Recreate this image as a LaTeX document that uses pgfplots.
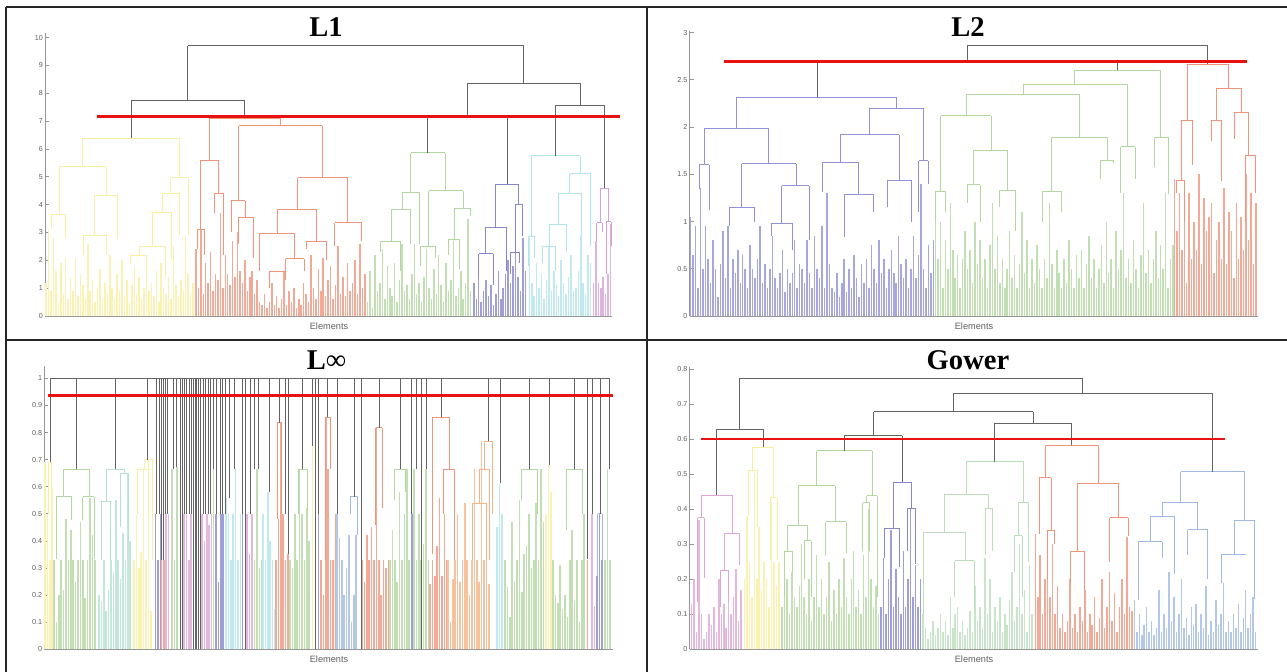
\documentclass[border=0pt]{standalone}
\usepackage{fontspec}
\setmainfont{Liberation Serif}
\newfontfamily\ticksans{Liberation Sans}
\usepackage{pgfplots}
\usepackage{pgfplotstable}
\pgfplotsset{compat=1.18}

\definecolor{lk}{RGB}{100,100,100}
\definecolor{axg}{RGB}{150,150,150}
\definecolor{lab}{RGB}{95,95,95}
\definecolor{thr}{RGB}{232,18,18}
\definecolor{cyel}{RGB}{250,238,160}
\definecolor{csal}{RGB}{240,148,122}
\definecolor{cgrn}{RGB}{178,215,160}
\definecolor{cpur}{RGB}{135,135,205}
\definecolor{ccya}{RGB}{178,228,238}
\definecolor{cmag}{RGB}{212,160,215}
\definecolor{cblu}{RGB}{145,145,215}
\definecolor{cteal}{RGB}{180,225,210}
\definecolor{cpnk}{RGB}{222,165,215}
\definecolor{cbl2}{RGB}{160,185,230}
\definecolor{corg}{RGB}{245,180,135}
\definecolor{clgr}{RGB}{188,222,188}

\pgfplotsset{
  dendro/.style={
    scale only axis, anchor=south west, clip=false,
    axis x line*=bottom, axis y line*=left,
    axis line style={draw=axg, line width=0.4pt, -},
    xtick=\empty, ymin=0,
    tick align=inside, major tick length=2pt,
    tick style={draw=axg, line width=0.4pt},
    yticklabel style={font=\ticksans\fontsize{3.6}{4}\selectfont, text=lab, inner sep=0.8pt},
    /pgf/number format/assume math mode=true,
    /pgf/number format/fixed,
  }
}

%% one U link per row: left leg (xl,yl), right leg (xr,yr), merge height t
\newcommand{\links}[2]{%
  \addplot[#2, line width=0.45pt, quiver={u=0, v=\thisrow{t}-\thisrow{yl}}] table[x=xl, y=yl] {#1};
  \addplot[#2, line width=0.45pt, quiver={u=0, v=\thisrow{t}-\thisrow{yr}}] table[x=xr, y=yr] {#1};
  \addplot[#2, line width=0.45pt, quiver={u=\thisrow{xr}-\thisrow{xl}, v=0}] table[x=xl, y=t] {#1};
}
%% leaf stems: start, spacing, colour, heights
\newcommand{\stems}[4]{%
  \addplot[ycomb, draw=#3!80!white, line width=0.75pt] table[x expr={#1+#2*\coordindex}, y index=0, header=false, row sep=\\] {#4};
}

%%% ---------------- L1 ----------------
\pgfplotstableread{
xl yl xr yr t
460 7.76 1283 8.36 9.71
322 6.38 600 7.10 7.76
1146 7.16 1421 7.58 8.36
1048 5.87 1244 4.73 7.16
1362 5.76 1481 4.59 7.58
}\LoneGray
\pgfplotstableread{
xl yl xr yr t
202 5.36 440 4.97 6.38
145 3.65 260 4.34 5.36
125 3.15 160 2.81 3.65
232 2.91 288 2.80 4.34
205 2.2 262 2.2 2.91
418 4.41 461 2.90 4.97
397 3.72 440 2.91 4.41
373 2.51 420 2.0 3.72
342 2.19 405 1.4 2.51
320 1.85 360 1.5 2.19
}\LoneYel
\pgfplotstableread{
xl yl xr yr t
513 5.60 686 6.83 7.10
492 3.11 536 4.40 5.60
483 2.4 500 2.2 3.11
525 3.7 548 2.2 4.40
585 4.14 790 4.97 6.83
566 3.0 601 3.54 4.14
585 2.6 620 2.1 3.54
729 3.83 852 3.35 4.97
679 2.97 776 2.67 3.83
635 1.6 722 2.05 2.97
660 1.0 700 1.3 1.6
750 2.4 800 2.0 2.67
820 2.5 886 2.7 3.35
700 1.5 745 1.6 2.05
}\LoneSal
\pgfplotstableread{
xl yl xr yr t
1006 4.44 1091 4.50 5.87
985 3.83 1028 2.60 4.44
960 2.69 1006 2.60 3.83
933 2.3 980 1.6 2.69
1050 2.5 1135 3.85 4.50
1113 2.75 1153 3.60 3.85
1030 1.8 1068 2.1 2.5
1100 2.2 1125 1.7 2.75
}\LoneGrn
\pgfplotstableread{
xl yl xr yr t
1215 3.19 1271 3.99 4.73
1190 2.23 1240 1.60 3.19
1173 1.40 1208 1.10 2.23
1262 2.30 1281 2.86 3.99
1250 1.5 1272 1.9 2.30
}\LonePur
\pgfplotstableread{
xl yl xr yr t
1302 2.86 1421 5.11 5.76
1295 1.8 1310 2.1 2.86
1396 4.40 1447 2.50 5.11
1368 3.30 1425 2.90 4.40
1347 2.50 1389 2.30 3.30
1330 1.9 1362 1.6 2.5
}\LoneCya
\pgfplotstableread{
xl yl xr yr t
1470 3.35 1492 3.39 4.59
1462 2.70 1476 3.00 3.35
1485 1.50 1497 2.50 3.39
}\LoneMag

%%% ---------------- L2 ----------------
\pgfplotstableread{
xl yl xr yr t
793 2.70 1376 2.665 2.86
430 2.315 1158 2.60 2.70
}\LtwoGray
\pgfplotstableread{
xl yl xr yr t
233 1.99 622 2.20 2.315
156 1.60 312 1.61 1.99
143 1.34 168 1.12 1.60
247 1.15 378 1.38 1.61
216 0.95 278 1.00 1.15
344 0.98 410 0.80 1.38
318 0.85 370 0.7 0.98
556 1.92 688 1.645 2.20
485 1.63 628 1.44 1.92
441 1.31 530 1.29 1.63
495 0.84 565 1.10 1.29
600 1.15 657 1.00 1.44
676 1.10 698 1.40 1.645
}\LtwoBlu
\pgfplotstableread{
xl yl xr yr t
1054 2.457 1262 1.89 2.60
929 2.35 1182 1.79 2.457
790 2.12 1065 1.89 2.35
729 1.32 851 1.75 2.12
717 1.0 740 1.1 1.32
808 1.39 891 1.33 1.75
793 1.2 824 1.0 1.39
872 1.15 910 0.9 1.33
998 1.32 1132 1.65 1.89
975 1.0 1022 1.1 1.32
1117 1.45 1147 1.62 1.65
1165 1.30 1200 1.45 1.79
1247 1.58 1280 1.29 1.89
}\LtwoGrn
\pgfplotstableread{
xl yl xr yr t
1327 2.075 1427 2.41 2.665
1312 1.44 1340 1.60 2.075
1300 1.3 1320 1.0 1.44
1397 2.07 1457 2.16 2.41
1385 1.85 1410 1.43 2.07
1441 1.87 1475 1.705 2.16
1468 1.00 1491 1.30 1.705
}\LtwoSal

%%% ---------------- L-infinity ----------------
\pgfplotstableread{
x h
50 0.69
76 0.665
115 0.665
147.7 0.70
156 0.5
159 0.5
161 0.33
163.3 0.33
165.7 0.5
167.7 0.5
173.3 0.665
176.7 0.674
180 0
182 0
184 0.5
186.7 0.5
189 0.5
191 0.5
193.3 0
195 0
196.7 0
198.3 0
200 0
203.3 0.5
205.7 0.5
208.3 0.5
210.7 0.5
213.3 0.665
216.7 0.5
220 0.5
222.3 0.5
225 0.5
229.3 0.56
234.3 0.665
242.3 0.5
245 0
250.7 0.5
254.3 0.665
258.3 0.665
269 0.58
279.3 0.837
285 0.5
288.3 0.35
302.7 0.665
312.7 0.75
315.7 0
318.3 0.5
327.7 0.856
337.7 0.5
354 0.563
361 0
379 0.818
400 0.665
411.7 0.5
416 0.665
421.7 0
426 0.665
441 0.856
488.3 0.768
500 0.612
529.3 0.665
549.3 0.68
574.3 0.665
587.7 0.335
592.7 0.5
600 0.5
609 0.665
}\LinfDrops
\pgfplotstableread{
xl yl xr yr t
63.3 0.563 89 0.563 0.665
56 0.335 71.7 0.477 0.563
82.7 0.477 94.3 0.335 0.563
298.3 0.5 307 0.5 0.665
394 0.55 405.7 0.58 0.665
521.7 0.55 537.3 0.5 0.665
566.7 0.44 582.7 0.5 0.665
}\LinfGrn
\pgfplotstableread{
xl yl xr yr t
106 0.547 124 0.65 0.665
101 0.33 110.7 0.33 0.547
120.7 0.45 128.3 0.4 0.65
}\LinfTeal
\pgfplotstableread{
xl yl xr yr t
48.5 0.5 51.5 0.6 0.69
144 0.665 152.7 0.33 0.70
137.7 0.5 148.3 0.5 0.665
}\LinfYel
\pgfplotstableread{
xl yl xr yr t
277 0.48 281.5 0.5 0.837
325.7 0.33 330 0.665 0.856
375.7 0.46 382.3 0.52 0.818
432.7 0.35 449.3 0.665 0.856
443.3 0.5 454.3 0.33 0.665
}\LinfSal
\pgfplotstableread{
xl yl xr yr t
350 0.5 357.7 0.42 0.563
597.7 0.27 602.3 0.33 0.5
}\LinfBlu
\pgfplotstableread{
xl yl xr yr t
484.3 0.665 492.3 0.5 0.768
479.3 0.54 489 0.33 0.665
472 0.33 486.5 0.33 0.54
}\LinfOrg

%%% ---------------- Gower ----------------
\pgfplotstableread{
xl yl xr yr t
242 0.629 1073 0.731 0.774
185 0.441 300 0.578 0.629
760 0.679 1387 0.508 0.731
566 0.61 953 0.645 0.679
495 0.567 636 0.477 0.61
859 0.536 1046 0.583 0.645
}\GowGray
\pgfplotstableread{
xl yl xr yr t
148 0.376 223 0.331 0.441
140 0.135 156 0.205 0.376
205 0.225 240 0.24 0.331
195 0.12 215 0.135 0.225
}\GowPnk
\pgfplotstableread{
xl yl xr yr t
273 0.51 323 0.433 0.578
262 0.38 285 0.35 0.51
315 0.255 333 0.255 0.433
}\GowYel
\pgfplotstableread{
xl yl xr yr t
428 0.467 563 0.439 0.567
383 0.355 473 0.364 0.467
358 0.28 407 0.31 0.355
450 0.27 500 0.275 0.364
550 0.419 575 0.15 0.439
540 0.28 557 0.28 0.419
350 0.15 370 0.22 0.28
398 0.2 415 0.15 0.31
}\GowGrn
\pgfplotstableread{
xl yl xr yr t
615 0.346 658 0.403 0.477
593 0.26 628 0.235 0.346
648 0.28 668 0.245 0.403
}\GowPur
\pgfplotstableread{
xl yl xr yr t
791 0.443 930 0.42 0.537
737 0.334 845 0.403 0.443
686 0.1 789 0.253 0.334
763 0.15 810 0.115 0.253
836 0.27 853 0.28 0.403
918 0.324 941 0.25 0.42
907 0.22 926 0.15 0.324
}\GowLgr
\pgfplotstableread{
xl yl xr yr t
982 0.49 1111 0.475 0.583
968 0.33 997 0.34 0.49
988 0.2 1005 0.3 0.34
1060 0.279 1160 0.376 0.475
1043 0.19 1078 0.17 0.279
1138 0.25 1183 0.325 0.376
}\GowSal
\pgfplotstableread{
xl yl xr yr t
1310 0.42 1465 0.367 0.508
1267 0.381 1352 0.342 0.42
1238 0.307 1296 0.215 0.381
1208 0.14 1266 0.26 0.307
1327 0.27 1376 0.2 0.342
1440 0.272 1490 0.145 0.367
1410 0.19 1467 0.27 0.272
}\GowBlu

\begin{document}
\begin{tikzpicture}
\useasboundingbox (0,0) rectangle (643.5pt,336pt);

%%% panel frames
\draw[line width=1pt, black!85] (3pt,332.5pt) -- (643.5pt,332.5pt);
\draw[line width=1pt, black!85] (3pt,332.5pt) -- (3pt,0pt);
\draw[line width=1pt, black!85] (323.5pt,332.5pt) -- (323.5pt,0pt);
\draw[line width=1pt, black!85] (3pt,165.75pt) -- (643.5pt,165.75pt);

%%% L1
\begin{axis}[dendro, at={(22.45pt,178pt)}, width=283.65pt, height=141.4pt,
  xmin=110, xmax=1500, ymax=10.16, ytick={0,1,...,10}]
  \stems{113}{6}{cyel}{1.2\\3.1\\0.9\\2.8\\1.6\\0.5\\1.9\\0.8\\2.1\\0.6\\1.4\\0.9\\2.1\\0.7\\1.5\\1.1\\0.6\\2.6\\0.9\\1.3\\0.5\\1.0\\1.7\\0.6\\1.2\\0.8\\2.2\\1.0\\0.6\\1.5\\0.9\\2.0\\0.7\\1.3\\0.5\\1.1\\1.8\\0.8\\1.4\\0.6\\1.0\\2.2\\0.9\\1.2\\0.7\\1.6\\0.5\\1.9\\1.0\\0.8\\1.4\\0.6\\2.5\\1.1\\0.7\\1.3\\0.9\\2.9\\1.5\\0.8\\1.2\\}
  \stems{480}{6}{csal}{2.4\\1.0\\3.1\\0.8\\1.9\\1.2\\2.3\\0.9\\1.5\\1.3\\3.7\\1.0\\2.2\\1.5\\1.1\\2.7\\1.4\\3.0\\1.6\\1.2\\2.0\\0.9\\1.4\\1.6\\0.8\\1.3\\0.5\\0.4\\0.8\\0.3\\0.5\\1.2\\0.4\\0.7\\0.3\\0.6\\1.6\\0.4\\0.9\\0.5\\1.0\\0.3\\0.6\\0.4\\1.2\\0.8\\0.5\\2.2\\1.0\\0.6\\1.7\\0.9\\2.1\\0.7\\1.3\\1.8\\0.6\\1.1\\2.5\\0.8\\1.4\\0.7\\1.9\\0.9\\1.2\\2.0\\0.8\\2.6\\1.0\\1.5\\}
  \stems{901}{6}{cgrn}{0.5\\1.6\\0.3\\2.2\\0.9\\1.2\\2.4\\0.6\\1.8\\1.0\\0.7\\1.9\\0.5\\1.3\\2.6\\0.9\\1.1\\0.6\\1.5\\2.6\\0.8\\1.2\\0.5\\1.4\\2.4\\1.0\\0.6\\1.7\\0.8\\2.2\\1.1\\0.5\\1.9\\0.9\\1.3\\2.7\\0.7\\1.0\\1.6\\0.6\\1.2\\3.5\\0.9\\}
  \stems{1161}{6}{cpur}{1.2\\0.6\\1.4\\0.5\\0.9\\1.3\\0.7\\1.1\\0.4\\0.8\\1.6\\0.6\\1.0\\1.5\\2.0\\1.2\\1.8\\2.5\\1.4\\0.9\\2.8\\1.6\\}
  \stems{1297}{6}{ccya}{2.8\\1.2\\0.7\\1.9\\1.0\\1.5\\0.6\\1.3\\2.5\\0.9\\1.6\\1.1\\0.7\\2.0\\1.2\\0.8\\1.4\\2.2\\0.9\\1.0\\1.6\\2.9\\1.2\\0.8\\2.2\\1.9\\}
  \stems{1454}{6}{cmag}{1.2\\2.7\\1.2\\1.0\\1.4\\0.8\\1.5\\3.3\\}
  \links{\LoneYel}{cyel}
  \links{\LoneSal}{csal}
  \links{\LoneGrn}{cgrn}
  \links{\LonePur}{cpur}
  \links{\LoneCya}{ccya}
  \links{\LoneMag}{cmag}
  \links{\LoneGray}{lk}
  \addplot[thr, line width=1.3pt] coordinates {(237,7.17) (1520,7.17)};
\end{axis}

%%% L2
\begin{axis}[dendro, at={(344.75pt,178pt)}, width=284.1pt, height=142.6pt,
  xmin=120, xmax=1497, ymax=3.02, ytick={0,0.5,...,3}]
  \stems{123}{6}{cblu}{1.05\\0.65\\0.95\\0.3\\1.35\\0.5\\0.95\\0.6\\0.35\\0.8\\0.5\\0.2\\0.55\\0.9\\0.4\\0.95\\0.3\\0.6\\0.45\\0.7\\0.35\\0.65\\0.5\\0.3\\0.75\\0.5\\0.4\\0.6\\0.95\\0.35\\0.55\\0.3\\0.5\\0.85\\0.4\\0.3\\0.45\\0.7\\0.25\\0.5\\0.35\\0.45\\0.8\\0.3\\0.55\\0.5\\0.35\\0.8\\0.45\\0.3\\0.85\\0.5\\0.4\\0.95\\0.3\\1.3\\0.55\\0.3\\0.25\\0.45\\0.2\\0.35\\0.6\\0.25\\0.5\\0.3\\0.65\\0.4\\0.2\\0.55\\0.35\\0.6\\0.3\\0.75\\0.5\\0.35\\0.8\\0.45\\0.6\\0.3\\0.5\\0.7\\0.45\\0.35\\0.85\\0.55\\0.4\\0.6\\0.3\\0.5\\0.85\\0.4\\0.65\\1.4\\0.5\\0.3\\0.75\\0.45\\0.8\\}
  \stems{716}{6}{cgrn}{1.3\\0.6\\1.0\\0.3\\0.8\\0.5\\1.2\\0.7\\0.4\\0.65\\0.3\\0.6\\0.9\\0.5\\0.7\\0.35\\1.0\\0.55\\0.8\\0.4\\0.6\\0.3\\0.75\\1.2\\0.5\\0.85\\0.35\\0.6\\0.3\\0.5\\0.9\\0.4\\0.65\\0.3\\0.55\\1.1\\0.45\\0.8\\0.3\\0.6\\0.35\\0.75\\0.5\\0.3\\0.6\\0.4\\1.2\\0.55\\0.3\\0.7\\0.45\\0.3\\0.6\\0.35\\0.8\\0.5\\0.3\\0.65\\0.4\\0.7\\0.3\\0.55\\0.85\\0.4\\0.6\\0.3\\0.5\\0.75\\0.35\\1.0\\0.45\\0.6\\0.3\\0.9\\0.5\\0.7\\1.3\\0.4\\0.6\\0.35\\0.8\\0.5\\0.3\\0.65\\1.2\\0.45\\0.7\\0.35\\0.6\\0.9\\0.4\\0.75\\0.5\\1.3\\0.3\\0.6\\0.75\\}
  \stems{1295}{6}{csal}{1.45\\0.9\\1.3\\0.7\\1.1\\0.35\\1.3\\0.6\\1.0\\0.7\\1.5\\0.55\\1.25\\0.9\\1.05\\1.2\\0.45\\0.8\\1.0\\0.6\\1.35\\0.55\\1.1\\0.9\\0.4\\1.2\\0.6\\1.05\\0.7\\1.5\\0.8\\1.3\\0.55\\1.2\\}
  \links{\LtwoBlu}{cblu}
  \links{\LtwoGrn}{cgrn}
  \links{\LtwoSal}{csal}
  \links{\LtwoGray}{lk}
  \addplot[thr, line width=1.3pt] coordinates {(203,2.697) (1470,2.697)};
\end{axis}

%%% L-infinity
\begin{axis}[dendro, at={(22.05pt,11.35pt)}, width=284.45pt, height=141.7pt,
  xmin=44.1, xmax=613, ymax=1.046, ytick={0,0.1,...,1}]
  \stems{45}{2.4}{cyel}{0.69\\0.5\\0.33\\0.6\\}
  \stems{54}{2.4}{cgrn}{0.33\\0.1\\0.2\\0.33\\0.22\\0.48\\0.33\\0.44\\0.33\\0.25\\0.33\\0.47\\0.33\\0.19\\0.33\\0.56\\0.42\\0.33\\}
  \stems{99}{2.4}{cteal}{0.2\\0.18\\0.33\\0.14\\0.22\\0.33\\0.28\\0.55\\0.33\\0.26\\0.43\\0.33\\0.65\\0.4\\}
  \stems{134}{2.4}{cyel}{0.33\\0.5\\0.3\\0.36\\0.67\\0.33\\0.7\\0.14\\}
  \stems{155.5}{2.4}{cpur}{0.5\\0.33\\0.5\\}
  \stems{161.5}{2.4}{csal}{0.33\\0.33\\}
  \stems{166}{2.4}{cpnk}{0.5\\0.5\\}
  \stems{172}{2.4}{cgrn}{0.665\\0.33\\0.674\\}
  \stems{184}{2.4}{cpnk}{0.5\\0.5\\0.33\\0.5\\}
  \stems{202}{2.4}{cpnk}{0.5\\0.4\\0.5\\0.46\\0.5\\}
  \stems{213.3}{2.4}{cgrn}{0.665\\}
  \stems{216}{2.4}{cpur}{0.5\\0.25\\0.5\\0.5\\}
  \stems{226}{2.4}{ccya}{0.56\\0.5\\0.33\\0.5\\0.67\\0.33\\0.5\\}
  \stems{242.3}{2.4}{cpur}{0.5\\}
  \stems{247}{2.4}{cpnk}{0.5\\0.35\\0.5\\}
  \stems{254.5}{2.4}{cgrn}{0.33\\0.665\\0.3\\0.33\\}
  \stems{263}{2.4}{ccya}{0.5\\0.33\\0.58\\0.4\\0.33\\0.15\\}
  \stems{276}{2.4}{csal}{0.33\\0.48\\0.835\\0.5\\0.33\\0.35\\}
  \stems{290}{2.4}{cgrn}{0.33\\0.3\\0.5\\0.33\\0.665\\0.5\\0.33\\0.52\\0.4\\}
  \stems{312.7}{2.4}{cyel}{0.75\\}
  \stems{318.3}{2.4}{cpur}{0.5\\}
  \stems{321}{2.4}{csal}{0.33\\0.2\\0.855\\0.665\\0.33\\0.33\\0.5\\}
  \stems{337}{2.4}{cbl2}{0.5\\0.41\\0.33\\0.2\\0.3\\0.42\\0.1\\0.2\\0.42\\}
  \stems{362}{2.4}{csal}{0.33\\0.25\\0.42\\0.33\\0.45\\0.33\\0.82\\0.33\\0.2\\0.33\\0.3\\0.33\\}
  \stems{390}{2.4}{cgrn}{0.33\\0.44\\0.33\\0.25\\0.58\\0.33\\0.5\\0.665\\0.33\\}
  \stems{412}{2.4}{cpur}{0.5\\}
  \stems{414}{2.4}{cgrn}{0.665\\0.33\\0.5\\0.33\\0.39\\0.665\\0.33\\}
  \stems{430}{2.4}{csal}{0.24\\0.33\\0.27\\0.38\\0.56\\0.27\\0.5\\0.33\\}
  \stems{448}{2.4}{corg}{0.33\\0.1\\0.26\\0.33\\0.5\\0.25\\0.33\\0.54\\0.33\\0.2\\0.33\\0.665\\0.33\\0.25\\0.77\\0.33\\0.45\\0.24\\}
  \stems{497}{2.4}{ccya}{0.45\\0.61\\0.5\\}
  \stems{505}{2.4}{cgrn}{0.33\\0.23\\0.12\\0.47\\0.25\\0.33\\0.55\\0.21\\0.35\\0.38\\0.5\\0.3\\0.33\\0.54\\0.33\\0.665\\0.47\\}
  \stems{546}{2.4}{cyel}{0.5\\0.68\\0.58\\}
  \stems{553}{2.4}{cgrn}{0.33\\0.2\\0.17\\0.31\\0.15\\0.2\\0.12\\0.33\\0.44\\0.18\\0.33\\0.1\\0.33\\0.5\\}
  \stems{587.7}{2.4}{csal}{0.33\\}
  \stems{592}{2.4}{cpnk}{0.5\\0.16\\}
  \stems{597}{2.4}{cpur}{0.27\\0.5\\0.33\\}
  \stems{605}{2.4}{cgrn}{0.33\\0.665\\0.33\\}
  \links{\LinfGrn}{cgrn}
  \links{\LinfTeal}{cteal}
  \links{\LinfYel}{cyel}
  \links{\LinfSal}{csal}
  \links{\LinfBlu}{cbl2}
  \links{\LinfOrg}{corg}
  \addplot[lk, line width=0.45pt, quiver={u=0, v=1-\thisrow{h}}] table[x=x, y=h] {\LinfDrops};
  \addplot[lk, line width=0.45pt] coordinates {(50,1) (609,1)};
  \addplot[thr, line width=1.3pt] coordinates {(48,0.937) (613,0.937)};
\end{axis}

%%% Gower
\begin{axis}[dendro, at={(344.75pt,11.35pt)}, width=284.1pt, height=141.2pt,
  xmin=120, xmax=1497, ymax=0.807, ytick={0,0.1,...,0.8}]
  \stems{125}{6}{cpnk}{0.13\\0.2\\0.05\\0.37\\0.1\\0.03\\0.05\\0.1\\0.07\\0.12\\0.05\\0.2\\0.1\\0.13\\0.06\\0.2\\0.1\\0.15\\0.23\\0.08\\0.17\\}
  \stems{253}{6}{cyel}{0.2\\0.38\\0.25\\0.15\\0.5\\0.2\\0.35\\0.17\\0.25\\0.2\\0.12\\0.42\\0.25\\0.18\\0.25\\}
  \stems{344}{6}{cgrn}{0.12\\0.28\\0.2\\0.1\\0.22\\0.15\\0.12\\0.18\\0.3\\0.15\\0.1\\0.2\\0.08\\0.15\\0.27\\0.12\\0.2\\0.1\\0.15\\0.25\\0.08\\0.17\\0.1\\0.2\\0.12\\0.26\\0.15\\0.1\\0.2\\0.28\\0.12\\0.17\\0.1\\0.27\\0.15\\0.4\\0.2\\0.12\\0.18\\0.1\\}
  \stems{584}{6}{cpur}{0.12\\0.26\\0.1\\0.2\\0.34\\0.12\\0.23\\0.15\\0.1\\0.28\\0.12\\0.2\\0.4\\0.15\\0.24\\0.12\\0.2\\}
  \stems{686}{6}{clgr}{0.1\\0.06\\0.03\\0.05\\0.08\\0.04\\0.06\\0.1\\0.05\\0.08\\0.04\\0.15\\0.06\\0.1\\0.12\\0.05\\0.08\\0.04\\0.06\\0.11\\0.05\\0.18\\0.08\\0.12\\0.06\\0.26\\0.1\\0.2\\0.05\\0.12\\0.08\\0.15\\0.05\\0.1\\0.07\\0.14\\0.22\\0.08\\0.12\\0.3\\0.1\\0.17\\0.05\\0.24\\0.1\\}
  \stems{958}{6}{csal}{0.33\\0.15\\0.27\\0.1\\0.2\\0.34\\0.15\\0.3\\0.1\\0.18\\0.06\\0.1\\0.05\\0.08\\0.2\\0.06\\0.1\\0.05\\0.12\\0.08\\0.17\\0.05\\0.1\\0.07\\0.15\\0.05\\0.09\\0.2\\0.06\\0.12\\0.22\\0.08\\0.16\\0.05\\0.12\\0.2\\0.1\\0.32\\0.12\\0.11\\}
  \stems{1198}{6}{cbl2}{0.14\\0.05\\0.1\\0.04\\0.07\\0.12\\0.05\\0.08\\0.04\\0.06\\0.17\\0.05\\0.1\\0.06\\0.22\\0.08\\0.15\\0.05\\0.1\\0.2\\0.06\\0.09\\0.04\\0.12\\0.07\\0.13\\0.05\\0.1\\0.06\\0.18\\0.04\\0.08\\0.05\\0.14\\0.07\\0.1\\0.19\\0.05\\0.08\\0.05\\0.1\\0.06\\0.13\\0.05\\0.09\\0.17\\0.06\\0.1\\0.15\\0.05\\}
  \links{\GowPnk}{cpnk}
  \links{\GowYel}{cyel}
  \links{\GowGrn}{cgrn}
  \links{\GowPur}{cpur}
  \links{\GowLgr}{clgr}
  \links{\GowSal}{csal}
  \links{\GowBlu}{cbl2}
  \links{\GowGray}{lk}
  \addplot[thr, line width=1.3pt] coordinates {(148,0.601) (1417,0.601)};
\end{axis}

%%% titles and axis labels
\node[font=\fontsize{14.3}{16}\selectfont\bfseries] at (163pt,322.25pt) {L1};
\node[font=\fontsize{14.3}{16}\selectfont\bfseries] at (484pt,322.25pt) {L2};
\node[font=\fontsize{14.3}{16}\selectfont\bfseries] at (163.25pt,156pt) {L\textmd{∞}};
\node[font=\fontsize{14.3}{16}\selectfont\bfseries] at (484pt,156pt) {Gower};
\node[font=\ticksans\fontsize{4.6}{5}\selectfont, text=lab] at (164.5pt,173pt) {Elements};
\node[font=\ticksans\fontsize{4.6}{5}\selectfont, text=lab] at (487pt,173pt) {Elements};
\node[font=\ticksans\fontsize{4.6}{5}\selectfont, text=lab] at (164.5pt,6.5pt) {Elements};
\node[font=\ticksans\fontsize{4.6}{5}\selectfont, text=lab] at (487pt,6.5pt) {Elements};
\end{tikzpicture}
\end{document}
